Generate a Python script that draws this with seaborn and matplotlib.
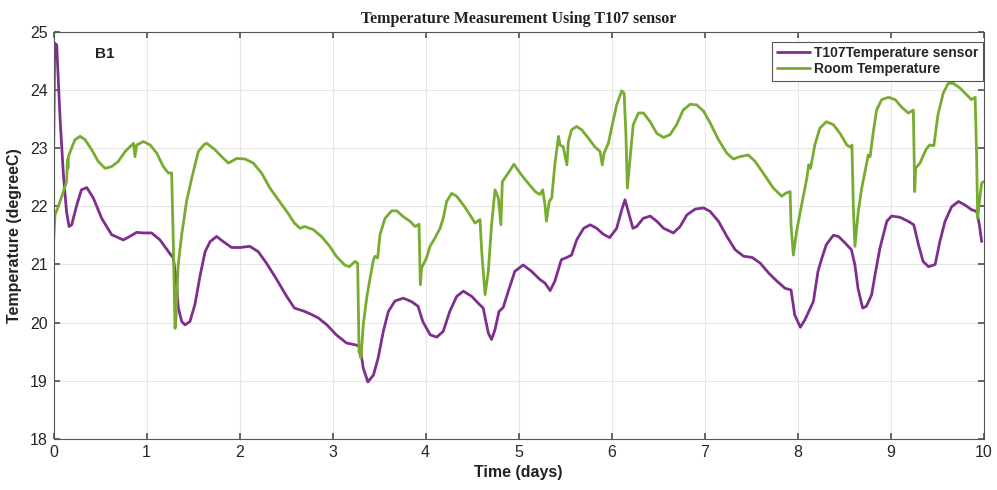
import numpy as np
import pandas as pd
import matplotlib
matplotlib.use("Agg")
import matplotlib.pyplot as plt
import seaborn as sns

# ---- data ----
t107_days = [0.0, 0.012, 0.034, 0.07, 0.106, 0.14, 0.167, 0.195, 0.25, 0.3, 0.357, 0.428, 0.518,
             0.625, 0.75, 0.82, 0.894, 0.966, 1.055, 1.145, 1.235, 1.288, 1.317, 1.342, 1.378,
             1.414, 1.467, 1.52, 1.575, 1.63, 1.683, 1.754, 1.826, 1.915, 2.005, 2.11, 2.2, 2.29,
             2.4, 2.507, 2.59, 2.687, 2.76, 2.847, 2.94, 3.04, 3.15, 3.24, 3.296, 3.33, 3.38,
             3.44, 3.49, 3.546, 3.6, 3.67, 3.76, 3.85, 3.92, 3.97, 4.05, 4.12, 4.19, 4.26, 4.335,
             4.407, 4.497, 4.568, 4.62, 4.675, 4.71, 4.747, 4.79, 4.835, 4.89, 4.96, 5.05, 5.14,
             5.23, 5.284, 5.34, 5.39, 5.46, 5.52, 5.57, 5.625, 5.7, 5.77, 5.84, 5.91, 5.98, 6.055,
             6.11, 6.145, 6.18, 6.23, 6.27, 6.34, 6.415, 6.487, 6.56, 6.665, 6.737, 6.81, 6.9,
             6.99, 7.06, 7.15, 7.24, 7.33, 7.42, 7.51, 7.6, 7.69, 7.78, 7.865, 7.93, 7.97, 8.03,
             8.08, 8.13, 8.17, 8.22, 8.26, 8.31, 8.385, 8.44, 8.51, 8.58, 8.617, 8.65, 8.7, 8.74,
             8.797, 8.83, 8.886, 8.96, 9.01, 9.1, 9.19, 9.25, 9.3, 9.35, 9.41, 9.48, 9.53, 9.586,
             9.657, 9.73, 9.8, 9.87, 9.926, 9.955, 9.98]
t107_temp = [22.8, 24.8, 24.77, 23.51, 22.54, 21.9, 21.65, 21.68, 22.02, 22.28, 22.32, 22.14, 21.79,
             21.51, 21.42, 21.48, 21.55, 21.54, 21.54, 21.42, 21.22, 21.11, 20.76, 20.25, 20.02,
             19.96, 20.02, 20.31, 20.8, 21.22, 21.39, 21.48, 21.39, 21.29, 21.29, 21.31, 21.22, 21.02,
             20.74, 20.45, 20.25, 20.2, 20.15, 20.08, 19.96, 19.79, 19.65, 19.62, 19.59, 19.22, 18.98,
             19.1, 19.39, 19.85, 20.19, 20.37, 20.42, 20.36, 20.28, 20.02, 19.79, 19.75, 19.85, 20.19, 20.45,
             20.54, 20.45, 20.33, 20.25, 19.82, 19.71, 19.88, 20.19, 20.26, 20.54, 20.88, 20.99, 20.88,
             20.74, 20.68, 20.55, 20.71, 21.08, 21.12, 21.16, 21.42, 21.62, 21.68, 21.62, 21.52, 21.46, 21.62,
             21.94, 22.11, 21.91, 21.62, 21.65, 21.79, 21.83, 21.74, 21.62, 21.54, 21.65, 21.85, 21.95,
             21.97, 21.91, 21.74, 21.48, 21.25, 21.14, 21.12, 21.02, 20.85, 20.71, 20.59, 20.56, 20.13, 19.92,
             20.05, 20.22, 20.36, 20.88, 21.1, 21.34, 21.5, 21.48, 21.37, 21.25, 20.99, 20.59, 20.25, 20.28,
             20.48, 20.79, 21.28, 21.74, 21.83, 21.81, 21.74, 21.68, 21.34, 21.05, 20.96, 21.0, 21.39, 21.74,
             21.99, 22.08, 22.02, 21.94, 21.91, 21.68, 21.39]

room_days = [0.0, 0.016, 0.05, 0.106, 0.14, 0.15, 0.155, 0.16, 0.18, 0.23, 0.285, 0.34, 0.41, 0.48,
             0.554, 0.625, 0.697, 0.77, 0.86, 0.876, 0.894, 0.966, 1.04, 1.11, 1.18, 1.235, 1.27,
             1.29, 1.306, 1.317, 1.34, 1.378, 1.43, 1.486, 1.557, 1.62, 1.647, 1.736, 1.808, 1.88,
             1.97, 2.06, 2.148, 2.237, 2.327, 2.43, 2.52, 2.59, 2.65, 2.7, 2.79, 2.88, 2.97, 3.04,
             3.13, 3.18, 3.24, 3.27, 3.285, 3.306, 3.33, 3.367, 3.403, 3.44, 3.457, 3.485, 3.51,
             3.564, 3.636, 3.69, 3.76, 3.833, 3.887, 3.93, 3.944, 3.958, 4.01, 4.048, 4.1, 4.156,
             4.19, 4.227, 4.28, 4.335, 4.407, 4.478, 4.532, 4.586, 4.604, 4.64, 4.675, 4.71, 4.747,
             4.783, 4.81, 4.826, 4.89, 4.95, 5.03, 5.1, 5.18, 5.23, 5.26, 5.284, 5.3, 5.33, 5.357,
             5.39, 5.43, 5.446, 5.48, 5.52, 5.536, 5.57, 5.625, 5.68, 5.75, 5.82, 5.876, 5.9, 5.92,
             5.966, 6.0, 6.055, 6.11, 6.135, 6.155, 6.17, 6.2, 6.233, 6.29, 6.343, 6.415, 6.487,
             6.56, 6.63, 6.7, 6.77, 6.845, 6.916, 6.99, 7.06, 7.15, 7.24, 7.31, 7.38, 7.47, 7.543,
             7.63, 7.74, 7.83, 7.87, 7.92, 7.93, 7.955, 7.99, 8.04, 8.1, 8.12, 8.14, 8.186, 8.24,
             8.31, 8.385, 8.457, 8.53, 8.575, 8.585, 8.6, 8.617, 8.653, 8.69, 8.74, 8.76, 8.78,
             8.815, 8.85, 8.905, 8.977, 9.05, 9.12, 9.19, 9.245, 9.26, 9.27, 9.317, 9.38, 9.42,
             9.466, 9.51, 9.566, 9.62, 9.675, 9.746, 9.82, 9.87, 9.91, 9.926, 9.937, 9.96, 9.98, 10.0]
room_temp = [21.37, 21.85, 21.99, 22.25, 22.42, 22.8, 22.65, 22.85, 22.94, 23.14, 23.2, 23.14, 22.97, 22.77,
             22.65, 22.68, 22.77, 22.94, 23.08, 22.85, 23.05, 23.11, 23.05, 22.91, 22.68, 22.57, 22.57,
             21.22, 19.9, 20.08, 20.99, 21.51, 22.08, 22.48, 22.94, 23.06, 23.08, 22.97, 22.85, 22.74,
             22.82, 22.81, 22.74, 22.57, 22.31, 22.08, 21.88, 21.71, 21.62, 21.65, 21.6, 21.48, 21.31, 21.14,
             20.99, 20.96, 21.05, 21.02, 19.5, 19.39, 19.96, 20.42, 20.76, 21.08, 21.14, 21.11, 21.51,
             21.79, 21.92, 21.92, 21.82, 21.74, 21.65, 21.69, 20.65, 20.94, 21.11, 21.31, 21.45, 21.62,
             21.79, 22.08, 22.22, 22.17, 22.02, 21.85, 21.71, 21.77, 21.22, 20.48, 20.88, 21.68, 22.28,
             22.14, 21.68, 22.42, 22.57, 22.72, 22.54, 22.4, 22.25, 22.2, 22.28, 22.02, 21.74, 22.08, 22.14,
             22.71, 23.2, 23.05, 23.02, 22.71, 23.11, 23.31, 23.37, 23.31, 23.17, 23.02, 22.94, 22.71, 22.91,
             23.08, 23.34, 23.74, 23.98, 23.94, 23.22, 22.31, 22.82, 23.4, 23.6, 23.6, 23.45, 23.25,
             23.18, 23.23, 23.4, 23.65, 23.75, 23.74, 23.63, 23.43, 23.14, 22.91, 22.81, 22.85, 22.88, 22.77,
             22.57, 22.31, 22.17, 22.22, 22.25, 21.68, 21.16, 21.57, 21.99, 22.48, 22.71, 22.65, 23.05, 23.34,
             23.45, 23.4, 23.25, 23.05, 23.01, 23.05, 21.97, 21.31, 21.91, 22.31, 22.71, 22.88, 22.85,
             23.28, 23.65, 23.83, 23.87, 23.83, 23.7, 23.6, 23.65, 22.25, 22.65, 22.74, 22.97, 23.05,
             23.04, 23.57, 23.94, 24.11, 24.11, 24.03, 23.91, 23.83, 23.87, 22.82, 21.8, 22.14, 22.4, 22.42]

series_names = ["T107Temperature sensor", "Room Temperature"]
x_ticks = list(range(0, 11))
y_ticks = list(range(18, 26))

df = pd.concat([
    pd.DataFrame({"Time": t107_days, "Temp": t107_temp, "Series": series_names[0]}),
    pd.DataFrame({"Time": room_days, "Temp": room_temp, "Series": series_names[1]}),
], ignore_index=True)

sns.set_theme(style="whitegrid")
plt.rcParams['font.family'] = ['Liberation Sans', 'DejaVu Sans']

fig = plt.figure(figsize=(9.97, 4.90), dpi=100)
ax = fig.add_axes([0.0537, 0.104, 0.9328, 0.8317])

palette = {series_names[0]: "#7E2F8E", series_names[1]: "#77AC30"}
sns.lineplot(data=df, x="Time", y="Temp", hue="Series", palette=palette, sort=False,
             estimator=None, linewidth=2.0, ax=ax)

ax.set_xlim(0, 10)
ax.set_ylim(18, 25)
ax.set_xticks(x_ticks)
ax.set_yticks(y_ticks)
ax.set_xticklabels([str(v) for v in x_ticks], fontsize=11.5)
ax.set_yticklabels([str(v) for v in y_ticks], fontsize=11.5)
ax.grid(True, color="#e6e6e6", linewidth=0.8)
for s in ax.spines.values():
    s.set_color("#555555")
    s.set_linewidth(0.8)
ax.tick_params(direction="in", length=4, color="#555555", top=True, right=True,
               bottom=True, left=True, pad=4, labelcolor="#262626")

ax.set_xlabel("Time (days)", fontsize=11.5, fontweight="bold", color="#222222", labelpad=4)
ax.set_ylabel("Temperature (degreeC)", fontsize=11.5, fontweight="bold", color="#222222", labelpad=6)
ax.set_title("Temperature Measurement Using T107 sensor", fontsize=11.5, fontweight="bold",
             family=["Liberation Serif", "DejaVu Serif"], color="#222222", pad=6)

ax.text(0.45, 24.55, "B1", fontsize=11, fontweight="bold", color="#222222")

leg = ax.legend(loc="upper right", bbox_to_anchor=(0.999, 0.974), borderaxespad=0.0,
                frameon=True, fancybox=False, framealpha=1, edgecolor="#555555",
                handlelength=2.4, handletextpad=0.3, borderpad=0.3, labelspacing=0.15,
                prop={"weight": "bold", "size": 10}, title=None)
leg.get_frame().set_linewidth(0.8)

fig.savefig("out.png", dpi=100, facecolor="white")
